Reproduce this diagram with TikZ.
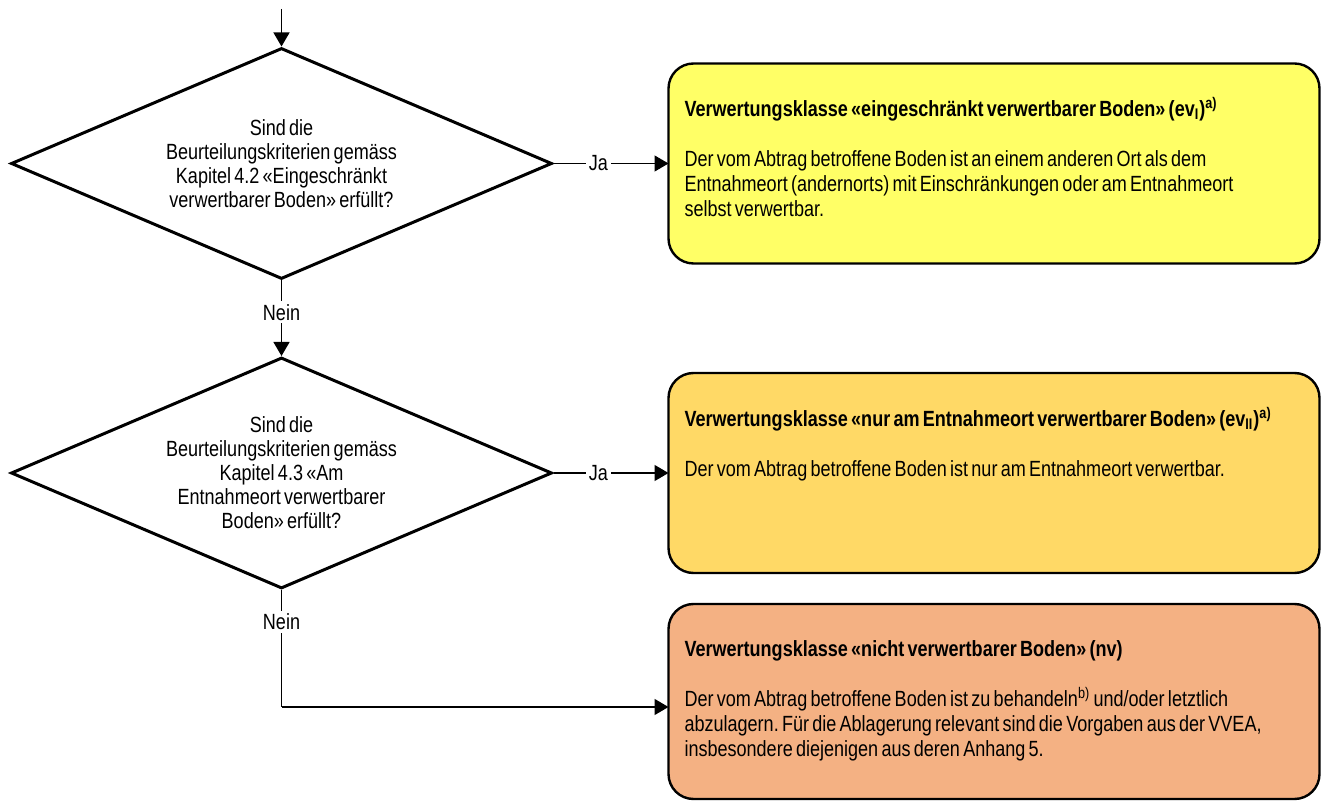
\documentclass[tikz,border=0pt]{standalone}
\usepackage{fontspec}
\setmainfont{Liberation Sans}[FakeStretch=0.82,WordSpace=0.65]
\usepackage{tikz}
\usetikzlibrary{arrows.meta,shapes.geometric}
\usetikzlibrary{positioning}
\definecolor{klasseI}{HTML}{FFFF66}
\definecolor{klasseII}{HTML}{FFD966}
\definecolor{klasseNV}{HTML}{F4B183}
\frenchspacing
\tikzset{
    frage/.style={
           diamond,
           draw=black, line width=1.5pt,
           aspect=2.34,
           minimum width=270.5pt,
           minimum height=115.5pt,
           inner sep=0pt,
           align=center,
           font=\fontsize{11}{12}\selectfont,
           },
    klasse/.style={
           rectangle,
           rounded corners=12.5pt,
           draw=black, line width=1.2pt,
           minimum width=325.5pt,
           inner sep=0pt,
           outer sep=0pt,
           font=\fontsize{11}{12.5}\selectfont,
           },
    antwort/.style={
           fill=white,
           inner sep=1.5pt,
           font=\fontsize{11}{12.5}\selectfont,
           },
}

\begin{document}
\begin{tikzpicture}[x=0.5pt,y=-0.5pt,line width=0.7pt,
  >={Triangle[length=7pt,width=8pt]}]

 % frame of the whole picture (pixel grid of the original)
 \useasboundingbox (0,0) rectangle (1322,801);

 % first question
 \node[frage] (Frage1) at (281.5,163.5)
 {Sind die\\
  Beurteilungskriterien gemäss\\
  Kapitel 4.2 «Eingeschränkt\\
  verwertbarer Boden» erfüllt?};

 % second question
 \node[frage] (Frage2) at (281.5,473)
 {Sind die\\
  Beurteilungskriterien gemäss\\
  Kapitel 4.3 «Am\\
  Entnahmeort verwertbarer\\
  Boden» erfüllt?};

 % class evI, right of the first question
 \node[klasse,
  fill=klasseI,
  minimum height=100pt,
  right=57.5pt of Frage1] (evI)
 {\parbox[c][84pt][t]{309.5pt}{\vspace*{9pt}%
  \textbf{Verwertungsklasse «eingeschränkt verwertbarer Boden» (ev\textsubscript{I})\textsuperscript{a)}}\\[12.5pt]
  Der vom Abtrag betroffene Boden ist an einem anderen Ort als dem\\
  Entnahmeort (andernorts) mit Einschränkungen oder am Entnahmeort\\
  selbst verwertbar.}};

 % class evII, right of the second question
 \node[klasse,
  fill=klasseII,
  minimum height=100pt,
  right=57.5pt of Frage2] (evII)
 {\parbox[c][84pt][t]{309.5pt}{\vspace*{9pt}%
  \textbf{Verwertungsklasse «nur am Entnahmeort verwertbarer Boden» (ev\textsubscript{II})\textsuperscript{a)}}\\[12.5pt]
  Der vom Abtrag betroffene Boden ist nur am Entnahmeort verwertbar.}};

 % class nv, below evII
 \node[klasse,
  fill=klasseNV,
  minimum height=97.5pt,
  below=15.5pt of evII] (nv)
 {\parbox[c][81.5pt][t]{309.5pt}{\vspace*{10.5pt}%
  \textbf{Verwertungsklasse «nicht verwertbarer Boden» (nv)}\\[12.5pt]
  Der vom Abtrag betroffene Boden ist zu behandeln\textsuperscript{b)} und/oder letztlich\\
  abzulagern. Für die Ablagerung relevant sind die Vorgaben aus der VVEA,\\
  insbesondere diejenigen aus deren Anhang 5.}};

 % loose ends of the connectors
 \coordinate (Start) at (281.5,9);
 \coordinate (Knick) at (281.5,707);

 % draw the paths with their answers
 \path[->] (Start)  edge (Frage1)
 (Frage1)  edge node[antwort,pos=0.39]{Ja} (evI)
 (Frage1)  edge node[antwort,pos=0.42]{Nein} (Frage2)
 (Frage2)  edge node[antwort,pos=0.39]{Ja} (evII);
 \draw (Frage2) -- node[antwort,pos=0.27]{Nein} (Knick);
 \draw[->] (Knick) -- (nv.west |- Knick);

\end{tikzpicture}
\end{document}
